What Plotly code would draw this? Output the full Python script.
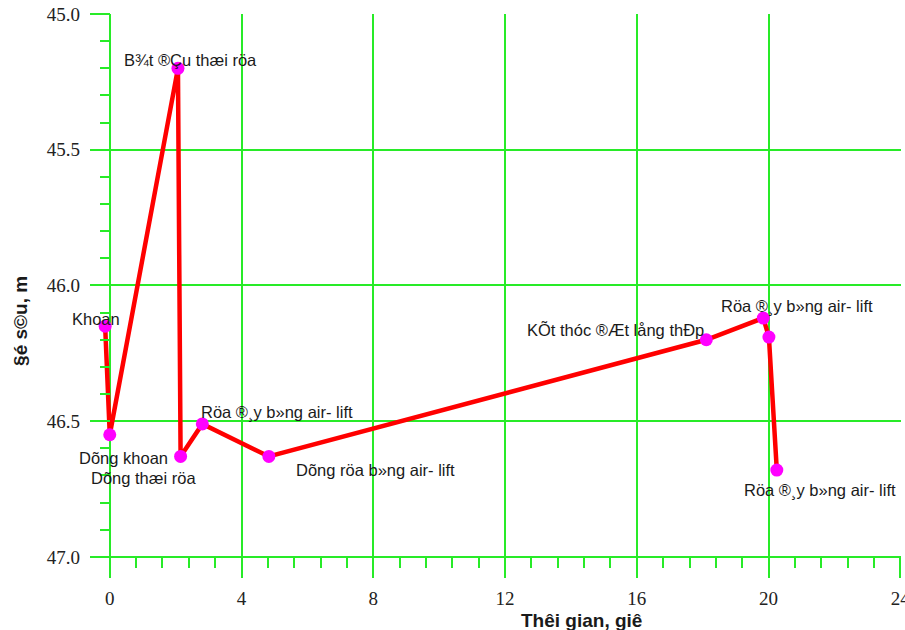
import plotly.graph_objects as go

# Borehole depth log vs elapsed time (labels in TCVN3-encoded Vietnamese)
time_h = [-0.14, 0.0, 2.07, 2.15, 2.81, 4.83, 18.11, 19.84, 20.01, 20.25]
depth_m = [46.15, 46.55, 45.20, 46.63, 46.51, 46.63, 46.20, 46.12, 46.19, 46.68]
event_labels = [
    "Khoan",
    "Dõng khoan",
    "B¾t ®Çu thæi röa",
    "Dõng thæi röa",
    "Röa ®¸y b»ng air- lift",
    "Dõng röa b»ng air- lift",
    "KÕt thóc ®Æt lång thÐp",
    "Röa ®¸y b»ng air- lift",
    "",
    "Röa ®¸y b»ng air- lift",
]
# pixel offsets of each label relative to its point
label_dx = [-9, 14, 13, -37, 75, 107, -91, 34, 0, 43]
label_dy = [7, -23, 8, -22, 11, -14, 10, 12, 0, -20]

x_ticks = [0, 4, 8, 12, 16, 20, 24]
y_ticks = [45.0, 45.5, 46.0, 46.5, 47.0]

GRID = "rgb(40,235,40)"
LW = 1.7
SERIF = "Times New Roman, Liberation Serif, serif"
SANS = "Arial, Liberation Sans, sans-serif"

x_range = [-0.6, 24.02]
# a little room below 47.0 so the vertical grid runs past the time axis
y_range = [47.074, 45.0]

fig = go.Figure()
fig.add_trace(go.Scatter(
    x=time_h, y=depth_m,
    mode="lines+markers",
    line=dict(color="#ff0000", width=4.5),
    marker=dict(color="#ff00ff", size=13),
    cliponaxis=False,
    showlegend=False,
))

for x, y, t, dx, dy in zip(time_h, depth_m, event_labels, label_dx, label_dy):
    if not t:
        continue
    fig.add_annotation(
        x=x, y=y, text=t, showarrow=False,
        xanchor="center", yanchor="middle",
        xshift=dx, yshift=dy,
        font=dict(family=SANS, size=16.5, color="#1a1a1a"),
    )

fig.add_annotation(
    xref="paper", yref="paper", x=0.606, y=-0.077,
    text="<b>Thêi gian, giê</b>", showarrow=False,
    xanchor="center", yanchor="middle",
    font=dict(family=SANS, size=19, color="#1a1a1a"),
)
fig.add_annotation(
    xref="paper", yref="paper", x=-0.085, y=0.455,
    text="<b>§é s©u, m</b>", showarrow=False, textangle=-90,
    xanchor="center", yanchor="middle",
    font=dict(family=SANS, size=19, color="#1a1a1a"),
)

fig.update_layout(
    template="none",
    width=905, height=630,
    margin=dict(l=90, r=4, t=14, b=53),
    paper_bgcolor="white", plot_bgcolor="white",
    xaxis=dict(
        range=x_range,
        tickmode="array",
        tickvals=x_ticks, ticktext=[str(v) for v in x_ticks],
        anchor="free",
        position=(y_range[0] - 47.0) / (y_range[0] - y_range[1]),
        showgrid=True, gridcolor=GRID, gridwidth=LW,
        zeroline=False, showline=False,
        ticks="outside", ticklen=20, tickcolor=GRID, tickwidth=LW,
        minor=dict(dtick=0.8, tick0=0, ticks="outside", ticklen=10,
                   tickcolor=GRID, tickwidth=LW, showgrid=False,
                   gridcolor=GRID),
        tickfont=dict(family=SERIF, size=19, color="#222"),
        ticklabelstandoff=4,
        ticklabeloverflow="allow",
    ),
    yaxis=dict(
        range=y_range,
        tickmode="array",
        tickvals=y_ticks, ticktext=[f"{v:.1f}" for v in y_ticks],
        anchor="free",
        position=(0 - x_range[0]) / (x_range[1] - x_range[0]),
        showgrid=True, gridcolor=GRID, gridwidth=LW,
        zeroline=False, showline=False,
        ticks="outside", ticklen=20, tickcolor=GRID, tickwidth=LW,
        minor=dict(dtick=0.1, tick0=45.0, ticks="outside", ticklen=10,
                   tickcolor=GRID, tickwidth=LW, showgrid=False,
                   gridcolor=GRID),
        tickfont=dict(family=SERIF, size=19, color="#222"),
        ticklabelstandoff=6,
    ),
)

fig.write_html("out.html")
